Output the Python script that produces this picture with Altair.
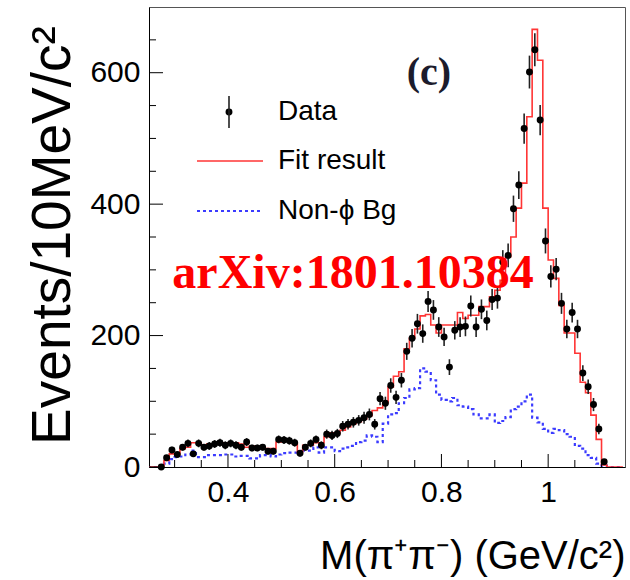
import altair as alt
import pandas as pd

# ---------------- data ----------------
bin_centers = [
    0.255, 0.265, 0.275, 0.285, 0.295, 0.305, 0.315, 0.325, 0.335, 0.345,
    0.355, 0.365, 0.375, 0.385, 0.395, 0.405, 0.415, 0.425, 0.435, 0.445,
    0.455, 0.465, 0.475, 0.485, 0.495, 0.505, 0.515, 0.525, 0.535, 0.545,
    0.555, 0.565, 0.575, 0.585, 0.595, 0.605, 0.615, 0.625, 0.635, 0.645,
    0.655, 0.665, 0.675, 0.685, 0.695, 0.705, 0.715, 0.725, 0.735, 0.745,
    0.755, 0.765, 0.775, 0.785, 0.795, 0.805, 0.815, 0.825, 0.835, 0.845,
    0.855, 0.865, 0.875, 0.885, 0.895, 0.905, 0.915, 0.925, 0.935, 0.945,
    0.955, 0.965, 0.975, 0.985, 0.995, 1.005, 1.015, 1.025, 1.035, 1.045,
    1.055, 1.065, 1.075, 1.085, 1.095, 1.105, 1.115, 1.125, 1.135,
]

fit_result = [
    0, 0, 0, 10, 20, 20, 28, 30, 37, 37,
    33, 35, 35, 37, 37, 37, 37, 35, 30, 32,
    30, 29, 28, 28, 38, 40, 40, 36, 23, 33,
    33, 37, 37, 46, 52, 52, 56, 61, 66, 69,
    73, 78, 86, 90, 98, 122, 138, 145, 180, 196,
    210, 230, 232, 216, 204, 216, 216, 216, 235, 226,
    231, 231, 244, 244, 259, 269, 284, 320, 350, 394,
    432, 533, 666, 619, 394, 315, 287, 246, 204, 204,
    173, 129, 113, 79, 42, 3, 0, 0, 0,
]

non_phi_bg = [
    0, 0, 0, 5, 12, 15, 16, 19, 25, 15,
    15, 18, 18, 18, 19, 19, 16, 17, 17, 13,
    13, 18, 18, 16, 19, 21, 22, 22, 20, 25,
    25, 30, 22, 30, 30, 24, 28, 30, 32, 38,
    40, 48, 46, 38, 66, 80, 82, 97, 105, 118,
    120, 150, 145, 132, 110, 102, 100, 105, 94, 92,
    88, 80, 74, 74, 80, 67, 70, 76, 88, 92,
    100, 110, 75, 68, 58, 52, 58, 56, 50, 46,
    32, 28, 18, 14, 5, 2, 0, 0, 0,
]

data_mass = bin_centers[2:86]
data_counts = [
    0, 14, 26, 19, 30, 36, 20, 36, 30, 32,
    35, 37, 33, 36, 33, 30, 38, 29, 29, 30,
    24, 24, 42, 41, 40, 37, 21, 30, 36, 42,
    33, 50, 48, 51, 62, 65, 68, 71, 75, 80,
    65, 104, 97, 124, 106, 132, 176, 196, 218, 203,
    252, 239, 213, 198, 152, 208, 213, 214, 245, 213,
    240, 223, 255, 257, 312, 322, 393, 429, 515, 601,
    635, 528, 344, 290, 301, 249, 210, 235, 210, 143,
    122, 95, 58, 8,
]
data_err = [
    1, 4, 5, 4, 5, 6, 4, 6, 5, 6,
    6, 6, 6, 6, 6, 5, 6, 5, 5, 5,
    5, 5, 6, 6, 6, 6, 5, 5, 6, 6,
    6, 7, 7, 7, 8, 8, 8, 8, 9, 9,
    8, 10, 10, 11, 10, 11, 13, 14, 15, 14,
    16, 15, 15, 14, 12, 14, 15, 15, 16, 15,
    15, 15, 16, 16, 18, 18, 20, 21, 23, 25,
    25, 23, 19, 17, 17, 16, 14, 15, 14, 12,
    11, 10, 8, 3,
]

bin_half_width = 0.005
x_label_ticks = [0.4, 0.6, 0.8, 1.0]
x_minor_ticks = [0.3, 0.35, 0.45, 0.5, 0.55, 0.65, 0.7, 0.75, 0.85, 0.9, 0.95, 1.05, 1.1]
y_label_ticks = [0, 200, 400, 600]
y_minor_ticks = [50, 100, 150, 250, 300, 350, 450, 500, 550, 650]
legend_labels = ["Data", "Fit result", "Non-\u03d5 Bg"]
panel_label = "(c)"
watermark = "arXiv:1801.10384"

assert len(bin_centers) == len(fit_result) == len(non_phi_bg)
assert len(data_mass) == len(data_counts) == len(data_err)

# ---------------- tables ----------------
def step_table(values):
    xs = [round(c - bin_half_width, 4) for c in bin_centers] + [round(bin_centers[-1] + bin_half_width, 4)]
    ys = list(values) + [values[-1]]
    return pd.DataFrame({"m": xs, "v": ys, "o": list(range(len(xs)))})

fit_df = step_table(fit_result)
bg_df = step_table(non_phi_bg)
pts_df = pd.DataFrame({
    "m": data_mass,
    "v": data_counts,
    "lo": [c - e for c, e in zip(data_counts, data_err)],
    "hi": [c + e for c, e in zip(data_counts, data_err)],
})
xmaj_df = pd.DataFrame({"t": x_label_ticks})
xmin_df = pd.DataFrame({"t": x_minor_ticks})
ymaj_df = pd.DataFrame({"t": y_label_ticks})
ymin_df = pd.DataFrame({"t": y_minor_ticks})
one = pd.DataFrame({"a": [0]})

# ---------------- scales / axes ----------------
W, H = 476, 460
FONT = "Liberation Sans"
xscale = alt.Scale(domain=[0.252, 1.144], nice=False, zero=False)
yscale = alt.Scale(domain=[0, 700], nice=False, zero=False)

xaxis = alt.Axis(
    values=x_label_ticks,
    labelExpr="datum.value == 1 ? '1' : format(datum.value, '.1f')",
    ticks=False, grid=False, domain=True, domainColor="black", domainWidth=1,
    labelFont=FONT, labelFontSize=30, labelColor="black", labelPadding=10,
    labelFlush=False, labelOverlap=False,
    title="M(\u03c0\u207a\u03c0\u207b) (GeV/c\u00b2)",
    titleFont=FONT, titleFontSize=40, titleFontWeight="normal", titleColor="black",
    titleX=W, titleY=101, titleAlign="right", titleBaseline="alphabetic",
)
yaxis = alt.Axis(
    values=y_label_ticks, format="d",
    ticks=False, grid=False, domain=True, domainColor="black", domainWidth=1,
    labelFont=FONT, labelFontSize=30, labelColor="black", labelPadding=9,
    labelOverlap=False,
    title="Events/10MeV/c\u00b2",
    titleFont=FONT, titleFontSize=55, titleFontWeight="normal", titleColor="black",
    titleX=-97, titleY=228, titleAngle=270, titleAlign="center", titleBaseline="middle",
)

def X(field):
    return alt.X(field, type="quantitative", scale=xscale, axis=xaxis)

def Y(field):
    return alt.Y(field, type="quantitative", scale=yscale, axis=yaxis)

# ---------------- layers ----------------
bg_line = alt.Chart(bg_df).mark_line(
    interpolate="step-after", color="#3b3bff", strokeWidth=2.2, strokeDash=[3, 3], clip=True
).encode(x=X("m"), y=Y("v"), order="o:Q")

fit_line = alt.Chart(fit_df).mark_line(
    interpolate="step-after", color="#ff3535", strokeWidth=1.6, clip=True
).encode(x=X("m"), y=Y("v"), order="o:Q")

err_bars = alt.Chart(pts_df).mark_rule(color="#222222", strokeWidth=1.6).encode(
    x=X("m"), y=Y("lo"), y2="hi:Q"
)
points = alt.Chart(pts_df).mark_circle(color="black", size=48, opacity=1).encode(
    x=X("m"), y=Y("v")
)

x_major = alt.Chart(xmaj_df).mark_rule(color="black", strokeWidth=1).encode(
    x=X("t"), y=alt.value(H), y2=alt.value(H - 13)
)
x_minor = alt.Chart(xmin_df).mark_rule(color="black", strokeWidth=1).encode(
    x=X("t"), y=alt.value(H), y2=alt.value(H - 7)
)
y_major = alt.Chart(ymaj_df).mark_rule(color="black", strokeWidth=1).encode(
    y=Y("t"), x=alt.value(0), x2=alt.value(14)
)
y_minor = alt.Chart(ymin_df).mark_rule(color="black", strokeWidth=1).encode(
    y=Y("t"), x=alt.value(0), x2=alt.value(7)
)

# legend (decoration, pixel placed)
leg_pt = alt.Chart(one).mark_circle(color="black", size=48, opacity=1).encode(
    x=alt.value(80), y=alt.value(105)
)
leg_bar = alt.Chart(one).mark_rule(color="#222222", strokeWidth=1.6).encode(
    x=alt.value(80), y=alt.value(89), y2=alt.value(121)
)
leg_fit = alt.Chart(one).mark_rule(color="#ff3535", strokeWidth=1.6).encode(
    x=alt.value(48), x2=alt.value(114), y=alt.value(154)
)
leg_bg = alt.Chart(one).mark_rule(color="#3b3bff", strokeWidth=2.2, strokeDash=[3, 3]).encode(
    x=alt.value(48), x2=alt.value(112), y=alt.value(204)
)
leg_txt = [
    alt.Chart(one).mark_text(
        text=lab, font=FONT, fontSize=28, color="black", align="left", baseline="middle"
    ).encode(x=alt.value(129), y=alt.value(yy))
    for lab, yy in zip(legend_labels, [105, 154, 204])
]

panel_txt = alt.Chart(one).mark_text(
    text=panel_label, font="Liberation Serif", fontWeight="bold", fontSize=40,
    color="#1c1c2c", align="center", baseline="middle"
).encode(x=alt.value(280), y=alt.value(66))

wm_txt = alt.Chart(one).mark_text(
    text=watermark, font="Liberation Serif", fontWeight="bold", fontSize=48,
    color="#ff0000", align="center", baseline="alphabetic"
).encode(x=alt.value(204), y=alt.value(281))

chart = alt.layer(
    bg_line, fit_line, err_bars, points,
    x_major, x_minor, y_major, y_minor,
    leg_pt, leg_bar, leg_fit, leg_bg, *leg_txt,
    panel_txt, wm_txt,
).properties(
    width=W, height=H,
    padding={"left": 149, "top": 7, "right": 5, "bottom": 113},
    autosize=alt.AutoSizeParams(type="none"),
    background="white",
).configure_view(
    stroke="#555555", strokeWidth=1
)

chart.save("out.html", embed_options={"renderer": "svg", "actions": False})
